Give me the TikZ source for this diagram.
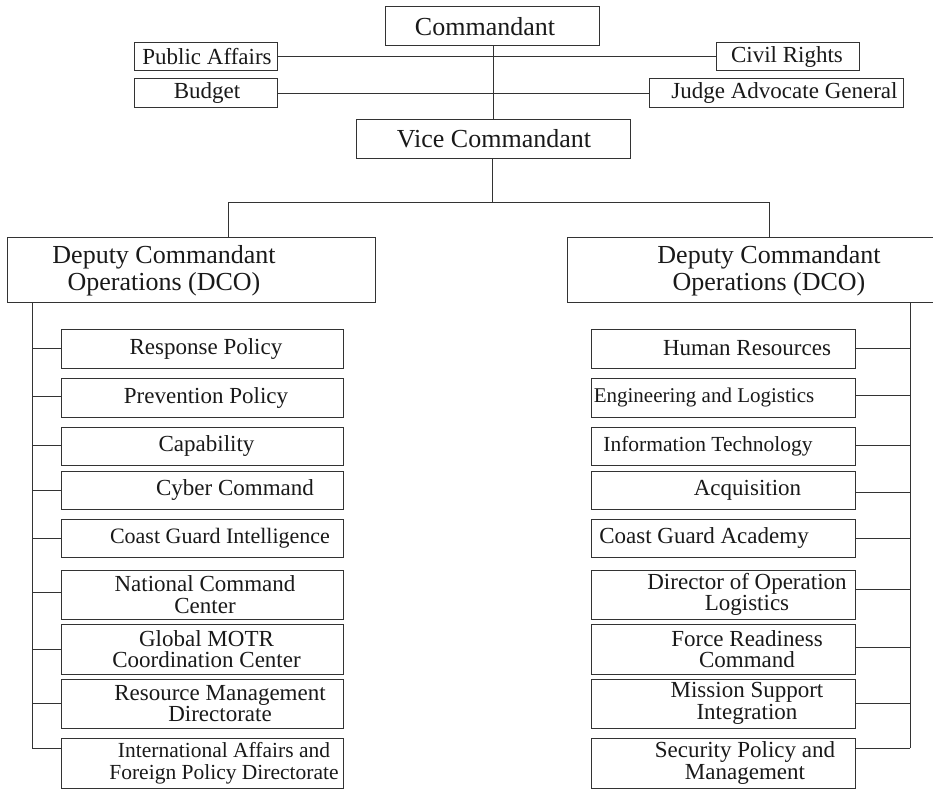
\documentclass[tikz,border=0pt]{standalone}
\usepackage{fontspec}
\setmainfont{Liberation Serif}
\newcommand\orgbox[8]{%
  \node[bx, minimum width={(#4-#2)*1pt}, minimum height={(#5-#3)*1pt}] (#1) at ({(#2+#4)/2},{(#3+#5)/2}) {};
  \node[tx, font=\fontsize{#7}{21.5}\selectfont] (#1-t) at (#6,{(#3+#5)/2}) {#8};
}
\begin{document}
\begin{tikzpicture}[x=1pt,y=-1pt,
  bx/.style={draw=black!80, line width=1pt, inner sep=0pt, rectangle},
  tx/.style={inner sep=0pt, align=center, text=black!90},
  ln/.style={draw=black!80, line width=1pt}]
\useasboundingbox (0,0) rectangle (933,789);
% top level
\orgbox{cmd}{385}{7}{599}{46}{485}{26}{Commandant}
\orgbox{pa}{134}{43}{277}{71}{207}{23}{Public Affairs}
\orgbox{bud}{134}{79}{277}{108}{207}{23}{Budget}
\orgbox{cr}{716}{43}{859}{71}{787}{23}{Civil Rights}
\orgbox{jag}{649}{79}{903}{108}{784.5}{23}{Judge Advocate General}
\orgbox{vice}{356}{119}{630}{158}{494}{26}{Vice Commandant}
\node[bx, minimum width=368pt, minimum height=65pt] (ldco) at (191,269.5) {};
\node[tx, font=\fontsize{26}{27}\selectfont] (ldco-t) at (164,271) {Deputy Commandant\\Operations (DCO)};
\node[bx, minimum width=369pt, minimum height=65pt] (rdco) at (751.5,269.5) {};
\node[tx, font=\fontsize{26}{27}\selectfont] (rdco-t) at (769,271) {Deputy Commandant\\Operations (DCO)};
% left column
\orgbox{rp}{61}{329}{343}{368}{206}{23}{Response Policy}
\orgbox{pp}{61}{378}{343}{417}{206}{23}{Prevention Policy}
\orgbox{cap}{61}{427}{343}{465}{206.5}{23}{Capability}
\orgbox{cy}{61}{471}{343}{509}{235}{23}{Cyber Command}
\orgbox{cgi}{61}{519}{343}{557}{220}{22}{Coast Guard Intelligence}
\orgbox{ncc}{61}{570}{343}{619}{205}{23}{National Command\\Center}
\orgbox{gm}{61}{624}{343}{674}{206.5}{23}{Global MOTR\\Coordination Center}
\orgbox{rm}{61}{679}{343}{728}{220}{23}{Resource Management\\Directorate}
\orgbox{ia}{61}{738}{343}{788}{224}{21.5}{International Affairs and\\Foreign Policy Directorate}
% right column
\orgbox{hr}{591}{329}{855}{368}{747}{23}{Human Resources}
\orgbox{el}{591}{378}{855}{417}{704}{21}{Engineering and Logistics}
\orgbox{it}{591}{427}{855}{465}{708}{21.5}{Information Technology}
\orgbox{acq}{591}{471}{855}{509}{747.5}{23}{Acquisition}
\orgbox{cga}{591}{519}{855}{557}{704}{23}{Coast Guard Academy}
\orgbox{dol}{591}{570}{855}{619}{747}{23}{Director of Operation\\Logistics}
\orgbox{frc}{591}{624}{855}{674}{747}{23}{Force Readiness\\Command}
\orgbox{msi}{591}{679}{855}{728}{747}{23}{Mission Support\\Integration}
\orgbox{spm}{591}{738}{855}{788}{745}{23}{Security Policy and\\Management}
% top connectors
\draw[ln] (cmd.south -| 493,0) -- (vice.north -| 493,0);
\draw[ln] (pa.east) -- (cr.west);
\draw[ln] (bud.east) -- (jag.west);
\coordinate (jl) at (228,202);
\coordinate (jr) at (769,202);
\draw[ln] (vice.south -| 492,0) -- (492,202);
\draw[ln] (jl) -- (jr);
\draw[ln] (jl) -- (jl |- ldco.north);
\draw[ln] (jr) -- (jr |- rdco.north);
% left trunk
\coordinate (ltb) at (32,748);
\draw[ln] (ldco.south -| ltb) -- (ltb);
\foreach \b/\s in {rp/0,pp/1,cap/1,cy/0,cgi/0,ncc/2.5,gm/0,rm/0.5,ia/15}{
  \draw[ln] ([yshift=\s pt]\b.west) -- ([yshift=\s pt]\b.west -| ltb);
}
% right trunk
\coordinate (rtb) at (910,748);
\draw[ln] (rdco.south -| rtb) -- (rtb);
\foreach \b/\s in {hr/0,el/2.5,it/1,acq/-2,cga/0,dol/5.5,frc/2,msi/0.5,spm/15}{
  \draw[ln] ([yshift=\s pt]\b.east) -- ([yshift=\s pt]\b.east -| rtb);
}
\end{tikzpicture}
\end{document}
